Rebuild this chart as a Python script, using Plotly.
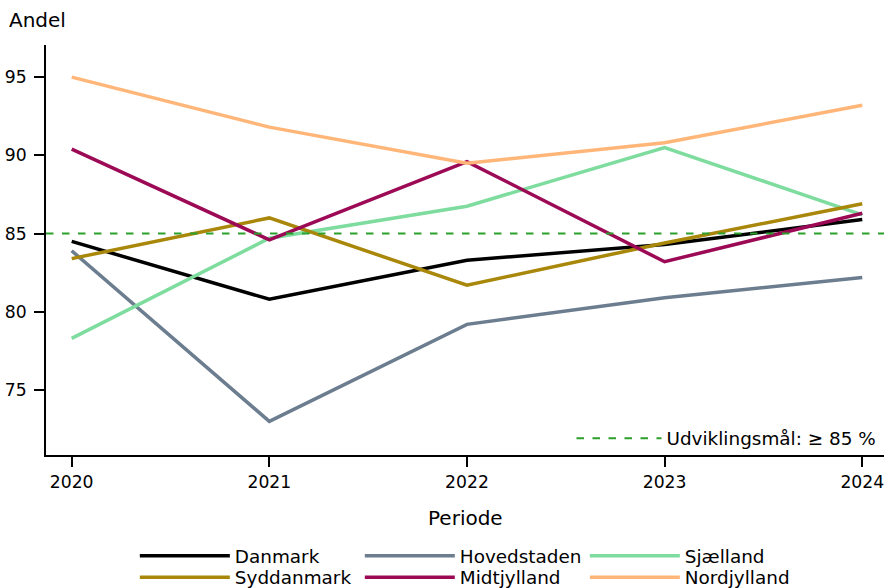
import plotly.graph_objects as go

years = [2020, 2021, 2022, 2023, 2024]

danmark = [84.5, 80.8, 83.3, 84.3, 85.9]
hovedstaden = [83.9, 73.0, 79.2, 80.9, 82.2]
sjaelland = [78.3, 84.7, 86.75, 90.5, 86.2]
syddanmark = [83.4, 86.0, 81.7, 84.4, 86.9]
midtjylland = [90.4, 84.6, 89.6, 83.2, 86.3]
nordjylland = [95.0, 91.8, 89.5, 90.8, 93.2]

target = 85

series = [
    ("Danmark", danmark, "#000000", "legend"),
    ("Hovedstaden", hovedstaden, "#6b7d8f", "legend"),
    ("Sjælland", sjaelland, "#7ddc9e", "legend"),
    ("Syddanmark", syddanmark, "#a8870a", "legend2"),
    ("Midtjylland", midtjylland, "#9c0a55", "legend2"),
    ("Nordjylland", nordjylland, "#ffb678", "legend2"),
]

FONT = "DejaVu Sans"

fig = go.Figure()
for name, vals, col, leg in series:
    fig.add_trace(go.Scatter(x=years, y=vals, mode="lines", name=name,
                             line=dict(color=col, width=3.5), legend=leg))

# target line, shown in its own legend inside the plot
fig.add_hline(y=target, line=dict(color="#2ca02c", width=2, dash="7.5px,8.5px"),
              showlegend=True, name="Udviklingsmål: ≥ 85 %", legend="legend3")

leg_common = dict(orientation="h", xanchor="left", yanchor="middle",
                  font=dict(family=FONT, size=18.4, color="black"),
                  bgcolor="rgba(0,0,0,0)", entrywidth=120, itemwidth=90,
                  traceorder="normal")

fig.update_layout(
    width=886, height=588,
    margin=dict(l=46, r=2, t=45, b=133, autoexpand=False),
    paper_bgcolor="white", plot_bgcolor="white",
    font=dict(family=FONT, size=17.2, color="black"),
    legend=dict(x=0.106, y=-0.246, **leg_common),
    legend2=dict(x=0.106, y=-0.298, **leg_common),
    legend3=dict(x=0.997, y=0.041, xanchor="right", yanchor="middle",
                 font=dict(family=FONT, size=18.4, color="black"),
                 bgcolor="rgba(0,0,0,0)", itemwidth=85),
    annotations=[
        dict(text="Andel", xref="paper", yref="paper", x=-0.047, y=1.061,
             xanchor="left", yanchor="middle", showarrow=False,
             font=dict(family=FONT, size=20)),
        dict(text="Periode", xref="paper", yref="paper", x=0.5, y=-0.154,
             xanchor="center", yanchor="middle", showarrow=False,
             font=dict(family=FONT, size=20)),
    ],
)

fig.update_xaxes(range=[2019.87, 2024.11], tickvals=years, ticktext=[str(y) for y in years],
                 showline=True, linecolor="black", linewidth=1.8, ticks="outside",
                 ticklen=10, tickwidth=1.8, tickcolor="black", showgrid=False, zeroline=False,
                 tickfont=dict(size=17.2))
fig.update_yaxes(range=[70.85, 97.05], tickvals=[75, 80, 85, 90, 95],
                 showline=True, linecolor="black", linewidth=1.8, ticks="outside",
                 ticklen=10, tickwidth=1.8, tickcolor="black", showgrid=False, zeroline=False,
                 tickfont=dict(size=17.2), ticklabelstandoff=4)

# drop the default body margin so the figure sits at the window's corner
fig.write_html("out.html", config={"displayModeBar": False},
               post_script="document.body.style.margin='0';")
